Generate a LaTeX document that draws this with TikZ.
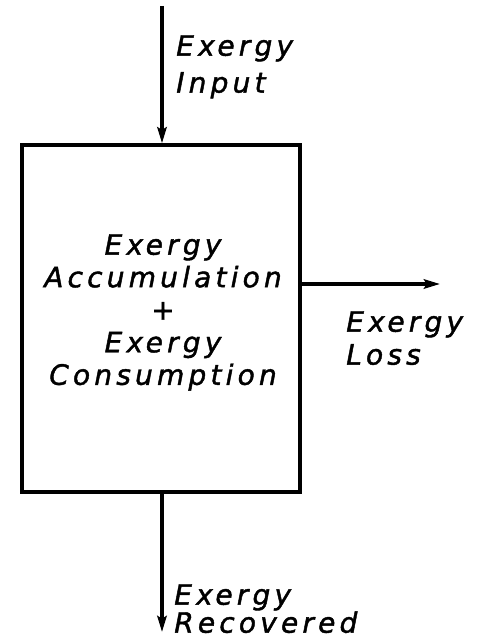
\documentclass[tikz,border=0pt]{standalone}
\usepackage{fontspec}
\setmainfont{DejaVu Sans}
\newfontfamily\labfont{DejaVu Sans Oblique}[LetterSpace=15,FakeBold=1.5]
\usetikzlibrary{arrows.meta}
\newcommand{\exg}{Ex\kern2pt ergy}
\begin{document}
\begin{tikzpicture}[x=0.75pt,y=-0.75pt,
  lbl/.style={font=\labfont\fontsize{21}{24.4}\selectfont, inner sep=0pt},
  flow/.style={line width=2.6pt,-{Stealth[length=12pt,width=7pt,inset=2pt]}},
  boxline/.style={line width=2.6pt}]
\path[use as bounding box,fill=white] (0,0) rectangle (483,641);
\node[boxline,draw,minimum width=278*0.75pt,minimum height=347*0.75pt,inner sep=0pt] (box) at (161,318.5) {};
\node[lbl,align=center,anchor=north] (mid) at (163,234) {\exg\\Accumulation\\+\\\exg\\Consumption};
\coordinate (top) at (162,6);
\coordinate (lossend) at (440,284);
\coordinate (botend) at (162,632);
\draw[flow] (top) -- (top |- box.north);
\draw[flow] (box.east |- lossend) -- (lossend);
\draw[flow] (botend |- box.south) -- (botend);
\node[lbl,align=left,anchor=north west,font=\labfont\fontsize{21}{27.7}\selectfont] (inlab) at (176,35) {\exg\\Input};
\node[lbl,align=left,anchor=north west,font=\labfont\fontsize{21}{24.7}\selectfont] (losslab) at (346,311) {\exg\\Loss};
\node[lbl,align=left,anchor=north west,font=\labfont\fontsize{21}{21}\selectfont] (reclab) at (174,584) {\exg\\Recovered};
\end{tikzpicture}
\end{document}
